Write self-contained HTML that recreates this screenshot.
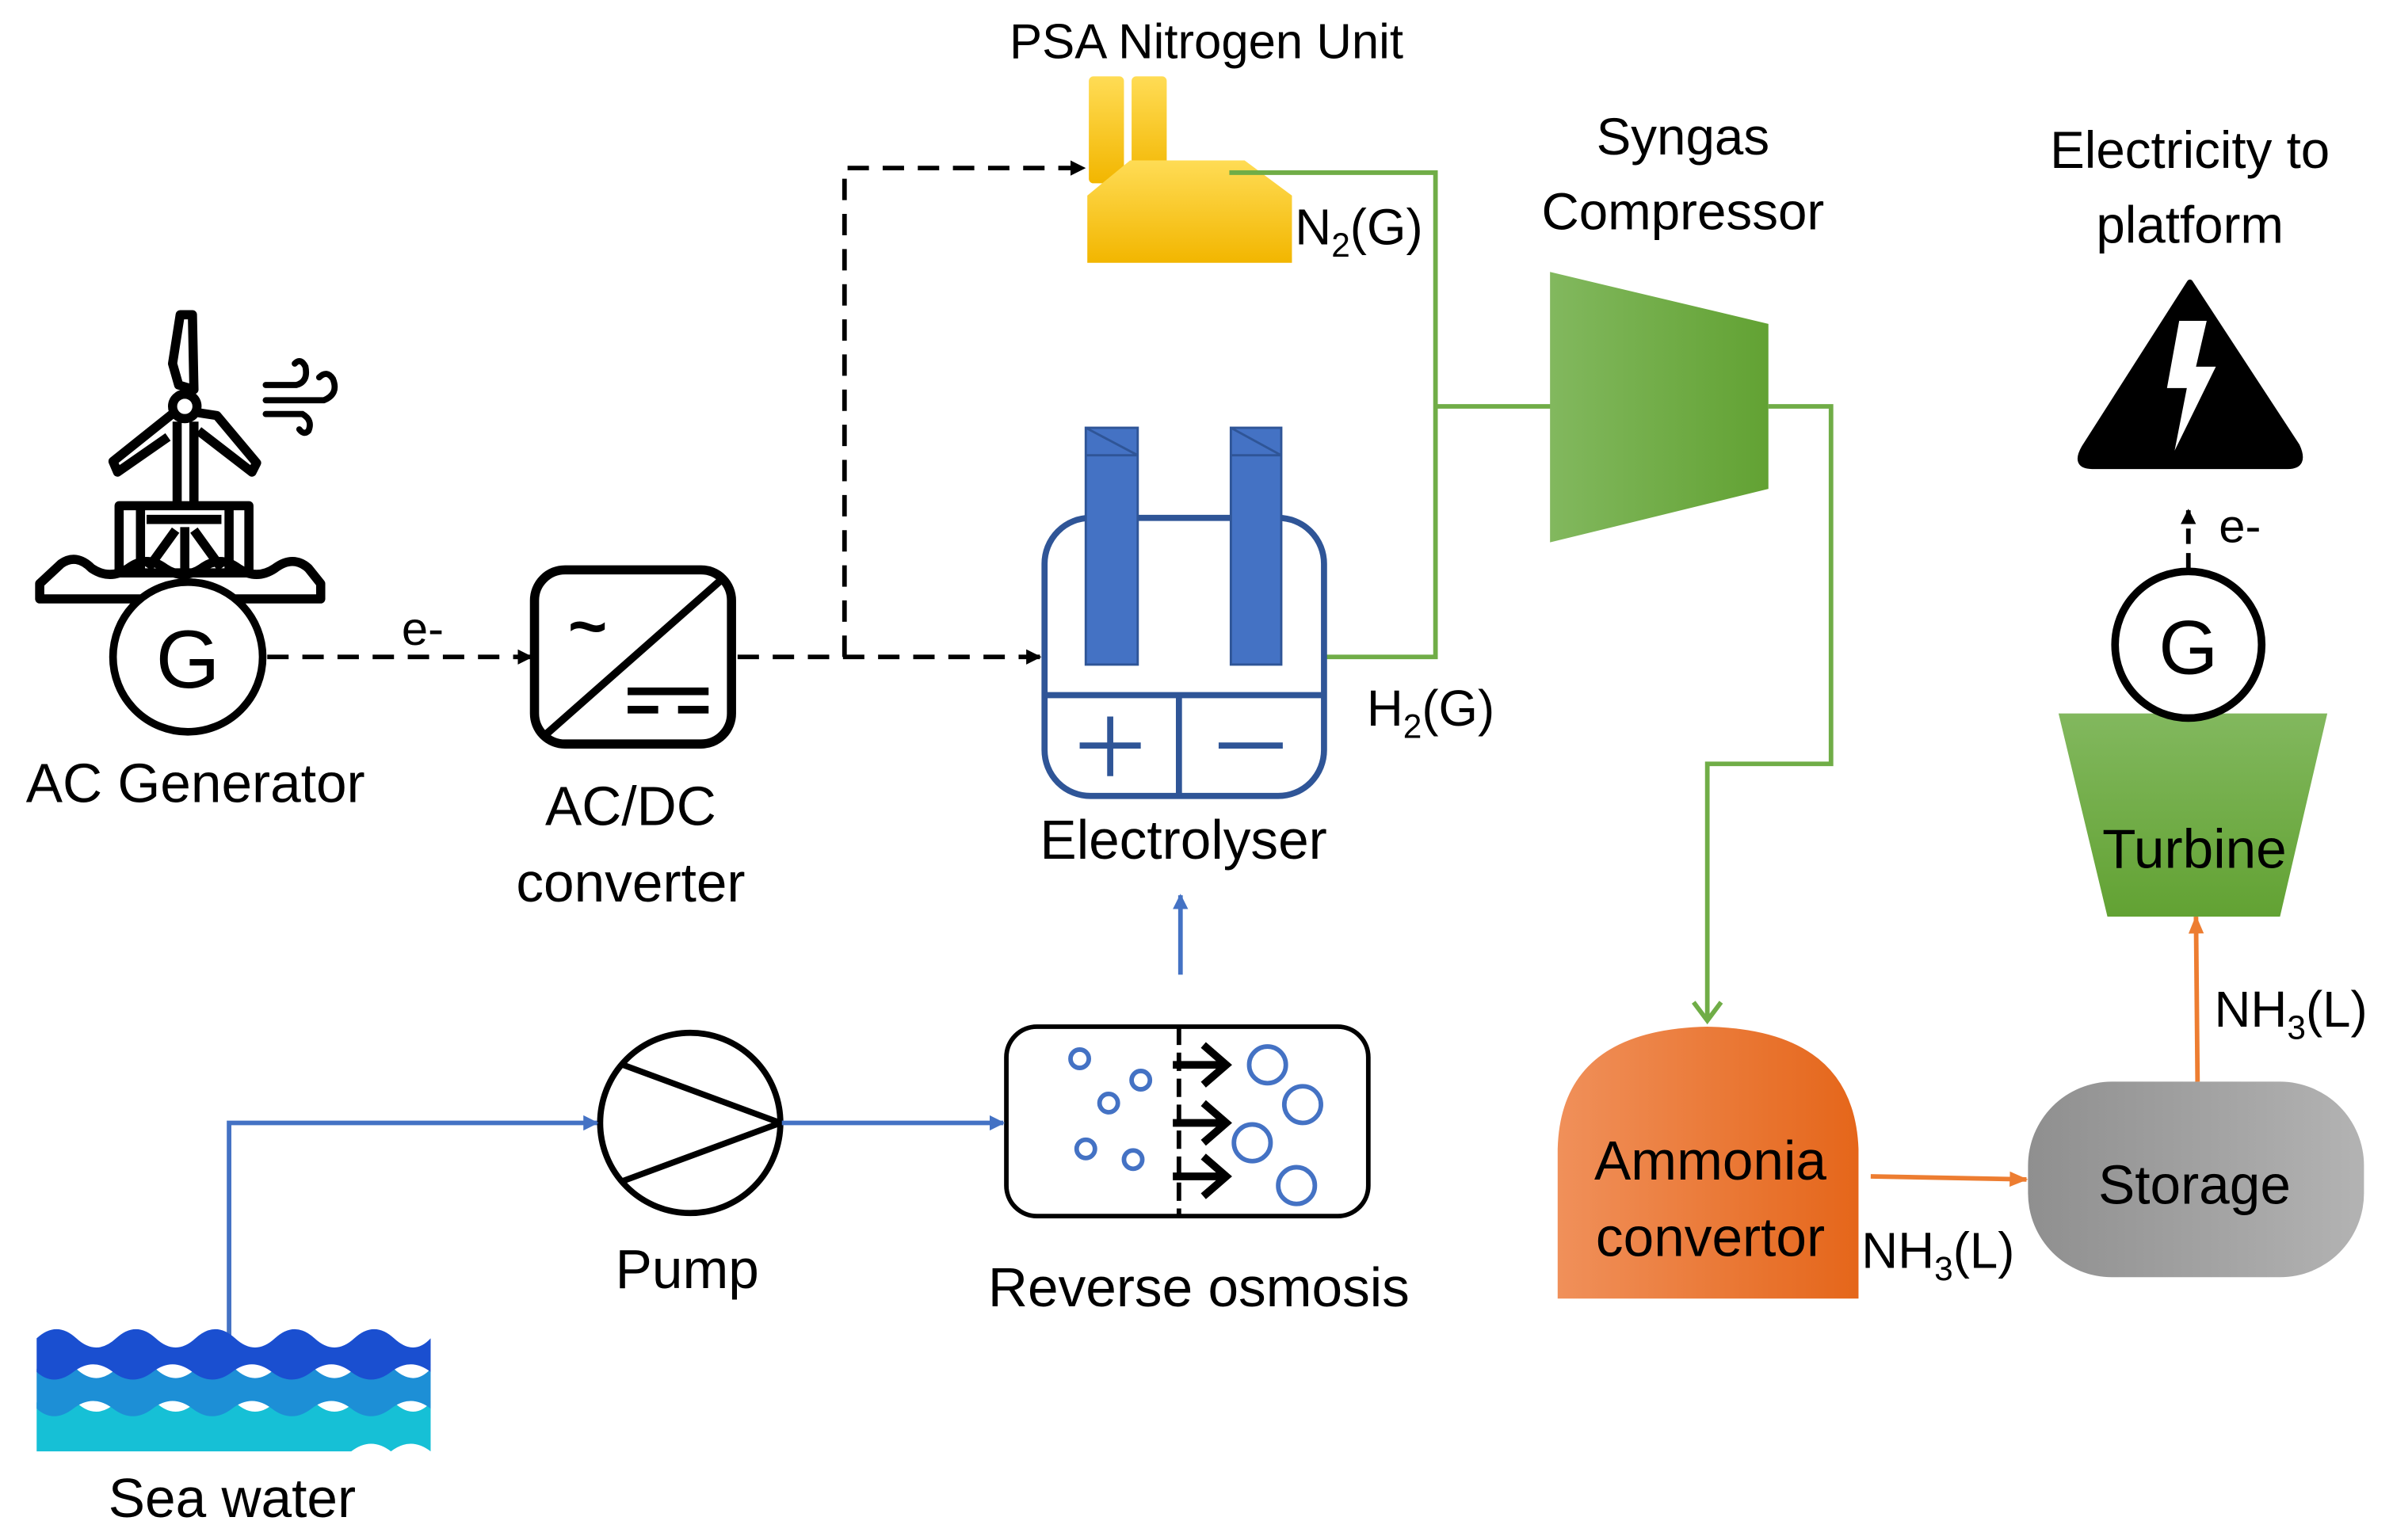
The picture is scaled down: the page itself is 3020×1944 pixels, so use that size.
<!DOCTYPE html>
<html><head><meta charset="utf-8"><style>html,body{margin:0;padding:0;background:#fff}svg{display:block}text{font-family:"Liberation Sans",sans-serif;fill:#000}</style></head><body>
<svg width="3020" height="1944" viewBox="0 0 1567 1008" preserveAspectRatio="none" xmlns="http://www.w3.org/2000/svg">
<defs>
<linearGradient id="yel" x1="0" y1="0" x2="0" y2="1"><stop offset="0" stop-color="#ffdc55"/><stop offset="1" stop-color="#f2b600"/></linearGradient>
<linearGradient id="grh" x1="0" y1="0" x2="1" y2="0"><stop offset="0" stop-color="#82b85e"/><stop offset="1" stop-color="#62a233"/></linearGradient>
<linearGradient id="grv" x1="0" y1="0" x2="0" y2="1"><stop offset="0" stop-color="#82b85e"/><stop offset="1" stop-color="#62a233"/></linearGradient>
<linearGradient id="org" x1="0" y1="0" x2="1" y2="0"><stop offset="0" stop-color="#f0905a"/><stop offset="1" stop-color="#e5661a"/></linearGradient>
<linearGradient id="gry" x1="0" y1="0" x2="1" y2="0"><stop offset="0" stop-color="#8f8f8f"/><stop offset="1" stop-color="#b3b3b3"/></linearGradient>
<marker id="ab" markerWidth="10" markerHeight="10" refX="9" refY="5" orient="auto" markerUnits="userSpaceOnUse"><path d="M0,0 L10,5 L0,10 Z" fill="#000"/></marker>
<marker id="abl" markerWidth="10" markerHeight="10" refX="9" refY="5" orient="auto" markerUnits="userSpaceOnUse"><path d="M0,0 L10,5 L0,10 Z" fill="#4472c4"/></marker>
<marker id="aor" markerWidth="12" markerHeight="12" refX="11" refY="6" orient="auto" markerUnits="userSpaceOnUse"><path d="M0,1 L12,6 L0,11 Z" fill="#ed7d31"/></marker>
</defs>

<text x="790" y="38" font-size="32" text-anchor="middle">PSA Nitrogen Unit</text>
<text x="1102" y="101" font-size="34" text-anchor="middle">Syngas</text>
<text x="1102" y="150" font-size="34" text-anchor="middle">Compressor</text>
<text x="1434" y="110" font-size="34" text-anchor="middle">Electricity to</text>
<text x="1434" y="159" font-size="34" text-anchor="middle">platform</text>

<rect x="713" y="50" width="23" height="70" rx="3" fill="url(#yel)"/>
<rect x="741" y="50" width="23" height="70" rx="3" fill="url(#yel)"/>
<path d="M712,172 L712,128 L740,105 L815,105 L846,128 L846,172 Z" fill="url(#yel)"/>
<text x="848" y="160" font-size="33">N<tspan font-size="22" dy="8">2</tspan><tspan dy="-8">(G)</tspan></text>

<g stroke="#70ad47" stroke-width="3" fill="none">
<polyline points="805,113 940,113 940,430 868,430"/>
<line x1="940" y1="266" x2="1016" y2="266"/>
<polyline points="1158,266 1199,266 1199,500 1118,500 1118,668"/>
<polyline points="1109,656 1118,668 1127,656"/>
</g>
<polygon points="1015,178 1158,212 1158,320 1015,355" fill="url(#grh)"/>

<path d="M1020,850 L1020,752 Q1022,674 1118,672 Q1214,674 1217,752 L1217,850 Z" fill="url(#org)"/>
<text x="1120" y="772" font-size="36" text-anchor="middle">Ammonia</text>
<text x="1120" y="822" font-size="36" text-anchor="middle">convertor</text>
<line x1="1225" y1="770" x2="1327" y2="772" stroke="#ed7d31" stroke-width="3" marker-end="url(#aor)"/>
<text x="1219" y="830" font-size="33">NH<tspan font-size="22" dy="8">3</tspan><tspan dy="-8">(L)</tspan></text>

<rect x="1328" y="708" width="220" height="128" rx="55" fill="url(#gry)"/>
<text x="1437" y="788" font-size="36" text-anchor="middle">Storage</text>
<line x1="1439" y1="708" x2="1438" y2="600" stroke="#ed7d31" stroke-width="3" marker-end="url(#aor)"/>
<text x="1450" y="672" font-size="33">NH<tspan font-size="22" dy="8">3</tspan><tspan dy="-8">(L)</tspan></text>

<polygon points="1348,467 1524,467 1493,600 1380,600" fill="url(#grv)"/>
<text x="1437" y="568" font-size="36" text-anchor="middle">Turbine</text>
<circle cx="1433" cy="422" r="48" fill="#fff" stroke="#000" stroke-width="5"/>
<text x="1433" y="441" font-size="50" text-anchor="middle">G</text>
<line x1="1433" y1="372" x2="1433" y2="334" stroke="#000" stroke-width="3" stroke-dasharray="10,6" marker-end="url(#ab)"/>
<text x="1453" y="355" font-size="31">e-</text>

<path d="M1434,185 L1504,292 Q1510,305 1498,305 L1370,305 Q1358,305 1365,293 Z" fill="#000" stroke="#000" stroke-width="4" stroke-linejoin="round"/>
<polygon points="1427,210 1445,210 1438,240 1451,240 1424,295 1432,254 1419,254" fill="#fff"/>

<g stroke="#000" stroke-width="6" fill="none" stroke-linejoin="round">
<path d="M118,206 L126,206 L127,255 L117,252 L113,238 Z"/>
<circle cx="121" cy="266" r="8"/>
<path d="M114,270 L74,302 L77,309 L110,286"/>
<path d="M129,270 L142,272 L168,303 L165,309 L130,282"/>
<path d="M116,276 L116,331 M127,276 L127,331"/>
<rect x="78" y="331" width="85" height="44"/>
<line x1="96" y1="340" x2="145" y2="340"/>
<path d="M92,331 L92,375 M150,331 L150,375"/>
<path d="M97,372 L115,347 M145,372 L127,347 M121,345 L121,375"/>
<path d="M26,392 L26,382 L40,369 Q50,362 60,372 Q72,380 84,372 Q96,363 108,372 Q120,380 132,372 Q144,363 156,372 Q168,380 180,372 Q192,363 202,372 L210,382 L210,392 Z"/>
</g>
<g stroke="#000" stroke-width="4" fill="none" stroke-linecap="round">
<path d="M174,252 L194,252 Q202,250 200,240 Q197,234 193,238"/>
<path d="M174,262 L212,262 Q222,258 218,248 Q214,242 209,247"/>
<path d="M174,271 L198,271 Q205,275 202,282 Q199,285 196,281"/>
</g>
<circle cx="123" cy="430" r="49" fill="#fff" stroke="#000" stroke-width="5"/>
<text x="123" y="450" font-size="54" text-anchor="middle">G</text>
<text x="128" y="525" font-size="36" text-anchor="middle">AC Generator</text>

<g stroke="#000" stroke-width="3" stroke-dasharray="14,9" fill="none">
<line x1="175" y1="430" x2="348" y2="430" marker-end="url(#ab)"/>
<line x1="483" y1="430" x2="681" y2="430" marker-end="url(#ab)"/>
<polyline points="553,430 553,110 710,110" marker-end="url(#ab)"/>
</g>
<text x="263" y="422" font-size="31">e-</text>

<rect x="350" y="373" width="129" height="114" rx="20" fill="#fff" stroke="#000" stroke-width="6"/>
<line x1="356" y1="482" x2="474" y2="378" stroke="#000" stroke-width="5"/>
<text x="372" y="425" font-size="44" font-weight="bold">~</text>
<rect x="411" y="450" width="53" height="5" fill="#000"/>
<rect x="411" y="462" width="20" height="5" fill="#000"/>
<rect x="444" y="462" width="20" height="5" fill="#000"/>
<text x="413" y="540" font-size="36" text-anchor="middle">AC/DC</text>
<text x="413" y="590" font-size="36" text-anchor="middle">converter</text>

<rect x="684" y="339" width="183" height="182" rx="30" fill="#fff" stroke="#2f5597" stroke-width="4"/>
<line x1="684" y1="455" x2="867" y2="455" stroke="#2f5597" stroke-width="4"/>
<line x1="772" y1="455" x2="772" y2="521" stroke="#2f5597" stroke-width="4"/>
<path d="M707,488 L747,488 M727,469 L727,508 M798,488 L840,488" stroke="#2f5597" stroke-width="4"/>
<rect x="711" y="280" width="34" height="155" fill="#4472c4" stroke="#2f5597" stroke-width="1.5"/>
<rect x="806" y="280" width="33" height="155" fill="#4472c4" stroke="#2f5597" stroke-width="1.5"/>
<path d="M711,298 L745,298 M711,280 L745,298 M806,298 L839,298 M806,280 L839,298" stroke="#2f5597" stroke-width="1.5"/>
<text x="775" y="562" font-size="36" text-anchor="middle">Electrolyser</text>
<text x="895" y="475" font-size="33">H<tspan font-size="22" dy="8">2</tspan><tspan dy="-8">(G)</tspan></text>
<line x1="773" y1="638" x2="773" y2="586" stroke="#4472c4" stroke-width="3" marker-end="url(#abl)"/>

<rect x="659" y="672" width="237" height="124" rx="20" fill="#fff" stroke="#000" stroke-width="3"/>
<line x1="772" y1="672" x2="772" y2="796" stroke="#000" stroke-width="3" stroke-dasharray="12,5"/>
<g stroke="#000" stroke-width="5" fill="none">
<path d="M768,697 L800,697 M788,684 L803,697 L788,710"/>
<path d="M768,735 L800,735 M788,722 L803,735 L788,748"/>
<path d="M768,770 L800,770 M788,757 L803,770 L788,783"/>
</g>
<g stroke="#4472c4" stroke-width="3" fill="none">
<circle cx="707" cy="693" r="6"/><circle cx="726" cy="722" r="6"/><circle cx="747" cy="707" r="6"/>
<circle cx="711" cy="752" r="6"/><circle cx="742" cy="759" r="6"/>
<circle cx="830" cy="697" r="12"/><circle cx="853" cy="723" r="12"/><circle cx="820" cy="748" r="12"/><circle cx="849" cy="776" r="12"/>
</g>
<text x="785" y="855" font-size="36" text-anchor="middle">Reverse osmosis</text>

<circle cx="452" cy="735" r="59" fill="#fff" stroke="#000" stroke-width="4"/>
<path d="M408,697 L511,735 L408,773" stroke="#000" stroke-width="4" fill="none"/>
<text x="450" y="843" font-size="36" text-anchor="middle">Pump</text>

<g stroke="#4472c4" stroke-width="3" fill="none">
<polyline points="150,875 150,735 391,735" marker-end="url(#abl)"/>
<line x1="512" y1="735" x2="657" y2="735" marker-end="url(#abl)"/>
</g>

<path d="M24,950 L24,918 Q37,906 50,918 Q63,930 76,918 Q89,906 102,918 Q115,930 128,918 Q141,906 154,918 Q167,930 180,918 Q193,906 206,918 Q219,930 232,918 Q245,906 258,918 Q271,930 282,918 L282,950 Q269,940 256,950 Q243,940 230,950 L24,950 Z" fill="#16c0d6"/>
<path d="M24,930 L24,896 Q37,884 50,896 Q63,908 76,896 Q89,884 102,896 Q115,908 128,896 Q141,884 154,896 Q167,908 180,896 Q193,884 206,896 Q219,908 232,896 Q245,884 258,896 Q271,908 282,896 L282,922 Q269,912 256,922 Q243,932 230,922 Q217,912 204,922 Q191,932 178,922 Q165,912 152,922 Q139,932 126,922 Q113,912 100,922 Q87,932 74,922 Q61,912 48,922 Q35,932 24,922 Z" fill="#1d8fd6"/>
<path d="M24,905 L24,876 Q37,864 50,876 Q63,888 76,876 Q89,864 102,876 Q115,888 128,876 Q141,864 154,876 Q167,888 180,876 Q193,864 206,876 Q219,888 232,876 Q245,864 258,876 Q271,888 282,876 L282,898 Q269,888 256,898 Q243,908 230,898 Q217,888 204,898 Q191,908 178,898 Q165,888 152,898 Q139,908 126,898 Q113,888 100,898 Q87,908 74,898 Q61,888 48,898 Q35,908 24,898 Z" fill="#1a4fd0"/>
<text x="152" y="993" font-size="36" text-anchor="middle">Sea water</text>
</svg>
</body></html>
